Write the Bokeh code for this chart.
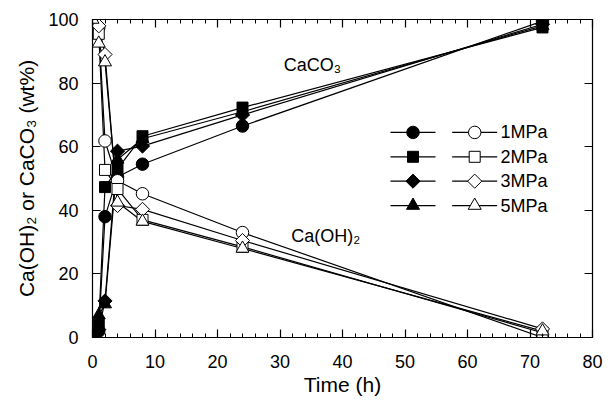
import math
from bokeh.plotting import figure
from bokeh.models import Range1d, LinearAxis, FixedTicker, Label
from bokeh.core.properties import value
from bokeh.embed import file_html
from bokeh.resources import INLINE

# ---------------- data ----------------
time_h = [0, 1, 2, 4, 8, 24, 72]
pressures = ["1MPa", "2MPa", "3MPa", "5MPa"]

# CaCO3 (filled symbols), wt%
caco3_1mpa = [0, 2.0, 38.0, 50.5, 54.5, 66.5, 99.5]
caco3_2mpa = [0, 4.0, 47.3, 53.0, 63.3, 72.3, 97.5]
caco3_3mpa = [0, 2.5, 11.5, 58.6, 60.2, 70.0, 98.5]
caco3_5mpa = [0, 7.0, 10.5, 56.0, 62.5, 71.0, 98.0]

# Ca(OH)2 (open symbols), wt%
caoh2_1mpa = [100, 97.5, 61.8, 49.3, 45.2, 33.0, 0.0]
caoh2_2mpa = [100, 95.5, 52.7, 46.7, 37.0, 28.5, 1.5]
caoh2_3mpa = [100, 98.0, 89.0, 41.5, 40.3, 30.5, 2.7]
caoh2_5mpa = [100, 92.5, 86.6, 42.5, 36.5, 28.0, 2.0]

x_ticks = list(range(0, 81, 10))
x_minor = list(range(0, 81, 2))
y_ticks = list(range(0, 101, 20))

caco3_series = [caco3_1mpa, caco3_2mpa, caco3_3mpa, caco3_5mpa]
caoh2_series = [caoh2_1mpa, caoh2_2mpa, caoh2_3mpa, caoh2_5mpa]

# ---------------- styles ----------------
FONT = "Liberation Sans"
markers = ["circle", "square", "square", "triangle"]
angles = [0, 0, math.pi / 4, 0]
sizes = [12.5, 11, 10, 13]

FRAME_W, FRAME_H = 500, 321
p = figure(width=604, height=398, x_range=Range1d(0, 80), y_range=Range1d(0, 100),
           output_backend="svg", toolbar_location=None,
           min_border_left=92, min_border_right=12, min_border_top=19, min_border_bottom=58)
p.extra_x_ranges = {"px": Range1d(0, FRAME_W)}
p.extra_y_ranges = {"py": Range1d(0, FRAME_H)}
p.xgrid.visible = False
p.ygrid.visible = False
p.outline_line_color = None
p.background_fill_color = "white"
p.border_fill_color = "white"

def style_axis(ax, labels=True, minor=True):
    ax.axis_line_color = "black"
    ax.axis_line_width = 1.2
    ax.major_tick_line_color = "black"
    ax.major_tick_line_width = 1.2
    ax.major_tick_in = 8
    ax.major_tick_out = 0
    ax.minor_tick_in = 4
    ax.minor_tick_out = 0
    ax.minor_tick_line_color = "black" if minor else None
    ax.minor_tick_line_width = 1.0
    ax.major_label_text_font = FONT
    if labels:
        ax.major_label_text_color = "black"
        ax.major_label_text_font_size = "18px"
    else:
        ax.major_label_text_color = None
        ax.major_label_text_font_size = "1px"
        ax.major_label_standoff = 0

xt = FixedTicker(ticks=x_ticks, minor_ticks=x_minor)
yt = FixedTicker(ticks=y_ticks, minor_ticks=[])

xa = p.xaxis[0]
xa.ticker = xt
style_axis(xa)
xa.major_label_standoff = 17
xa.axis_label = "Time (h)"
xa.axis_label_text_font = FONT
xa.axis_label_text_font_size = "21px"
xa.axis_label_text_font_style = "normal"
xa.axis_label_text_color = "black"
xa.axis_label_standoff = 2

ya = p.yaxis[0]
ya.ticker = yt
style_axis(ya, minor=False)
ya.major_label_standoff = 14
ya.axis_label = "Ca(OH)\u2082 or CaCO\u2083 (wt%)"
ya.axis_label_text_font = FONT
ya.axis_label_text_font_size = "21px"
ya.axis_label_text_font_style = "normal"
ya.axis_label_text_color = "black"
ya.axis_label_standoff = 7

top = LinearAxis(ticker=FixedTicker(ticks=x_ticks, minor_ticks=x_minor))
style_axis(top, labels=False)
p.add_layout(top, "above")
right = LinearAxis(ticker=FixedTicker(ticks=y_ticks, minor_ticks=[]))
style_axis(right, labels=False, minor=False)
p.add_layout(right, "right")

# ---------------- lines ----------------
for ys in caco3_series + caoh2_series:
    p.line(time_h, ys, line_color="black", line_width=1.2)

for i, ys in enumerate(caco3_series):
    p.scatter(time_h, ys, marker=markers[i], size=sizes[i], angle=angles[i],
              fill_color="black", line_color="black", line_width=1)
for i, ys in enumerate(caoh2_series):
    p.scatter(time_h, ys, marker=markers[i], size=sizes[i], angle=angles[i],
              fill_color="white", line_color="black", line_width=1)

# ---------------- annotations ----------------
p.add_layout(Label(x=30.6, y=85.7, text="CaCO\u2083", text_font=FONT, text_font_size="18px",
                   text_baseline="middle", text_color="black"))
p.add_layout(Label(x=31.8, y=31.8, text="Ca(OH)\u2082", text_font=FONT, text_font_size="18px",
                   text_baseline="middle", text_color="black"))

# ---------------- legend (frame pixel units) ----------------
row_y = [207, 182.4, 157.8, 133.2]
fill_x0, fill_x1 = 298, 343
open_x0, open_x1 = 359.7, 404.7
text_x = 408
for i, name in enumerate(pressures):
    yy = row_y[i]
    for (x0, x1, fc) in [(fill_x0, fill_x1, "black"), (open_x0, open_x1, "white")]:
        p.line([x0, x1], [yy, yy], line_color="black", line_width=1.2,
               x_range_name="px", y_range_name="py")
        p.scatter([(x0 + x1) / 2], [yy], marker=markers[i], size=sizes[i], angle=angles[i],
                  fill_color=fc, line_color="black", line_width=1,
                  x_range_name="px", y_range_name="py")
    p.text([text_x], [yy], text=[name], text_font=value(FONT), text_font_size="18px",
           text_baseline="middle", text_align="left", text_color="black",
           x_range_name="px", y_range_name="py")

open("out.html", "w").write(file_html(p, INLINE))
